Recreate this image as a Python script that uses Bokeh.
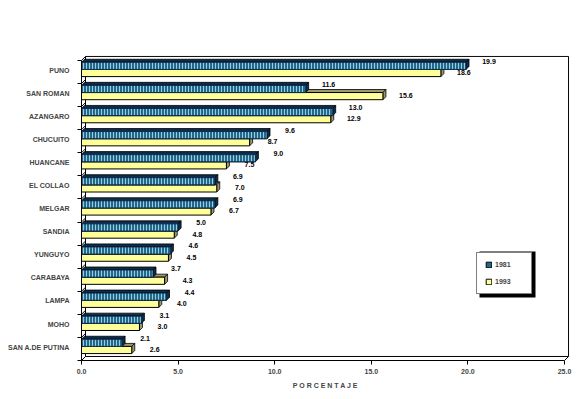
from bokeh.plotting import figure
from bokeh.models import (Range1d, FixedTicker, ColumnDataSource, Legend, LegendItem,
                          BoxAnnotation, NumeralTickFormatter)
from bokeh.core.properties import value
from bokeh.embed import file_html
from bokeh.resources import INLINE

# ---------------- data ----------------
provinces = ["PUNO", "SAN ROMAN", "AZANGARO", "CHUCUITO", "HUANCANE", "EL COLLAO",
             "MELGAR", "SANDIA", "YUNGUYO", "CARABAYA", "LAMPA", "MOHO", "SAN A.DE PUTINA"]
pct_1981 = [19.9, 11.6, 13.0, 9.6, 9.0, 6.9, 6.9, 5.0, 4.6, 3.7, 4.4, 3.1, 2.1]
pct_1993 = [18.6, 15.6, 12.9, 8.7, 7.5, 7.0, 6.7, 4.8, 4.5, 4.3, 4.0, 3.0, 2.6]
series_names = ["1981", "1993"]
x_ticks = [0, 5, 10, 15, 20, 25]
x_title = "P O R C E N T A J E"

# ---------------- style / layout constants ----------------
FONT = "Liberation Sans"
N = len(provinces)
X_MAX = x_ticks[-1]
PX_X = 19.32          # px per x unit
PX_Y = 22.92          # px per category
WALL_DX, WALL_DY = 4 / PX_X, 4 / PX_Y
BAR_DX, BAR_DY = 3 / PX_X, 3 / PX_Y
BAR_BASE, BAR_H = 0.30, 0.31

TEAL, TEAL_STRIPE, TEAL_SIDE = "#1F6A8C", "#9CCBE0", "#0E2C4C"
YEL, YEL_SIDE = "#FFFF99", "#9A9A6E"

x_end = X_MAX + WALL_DX + 0.05
y_end = N + WALL_DY + 0.04

p = figure(width=576, height=392, output_backend="svg", toolbar_location=None,
           x_range=Range1d(0, x_end), y_range=Range1d(0, y_end),
           min_border_left=81, min_border_right=7, min_border_top=55, min_border_bottom=32)
p.outline_line_color = None
p.grid.visible = False
p.background_fill_color = "white"

# ---------------- 3D walls ----------------
wall = dict(line_color="black", line_width=1)
p.segment(x0=[WALL_DX, X_MAX + WALL_DX, WALL_DX, WALL_DX],
          y0=[N + WALL_DY, WALL_DY, WALL_DY, WALL_DY],
          x1=[X_MAX + WALL_DX, X_MAX + WALL_DX, X_MAX + WALL_DX, WALL_DX],
          y1=[N + WALL_DY, N + WALL_DY, WALL_DY, N + WALL_DY], **wall)
ks = list(range(N + 1))
p.segment(x0=[0] * len(ks), y0=ks, x1=[WALL_DX] * len(ks), y1=[k + WALL_DY for k in ks], **wall)
p.segment(x0=[X_MAX], y0=[0], x1=[X_MAX + WALL_DX], y1=[WALL_DY], **wall)

# ---------------- bars ----------------
def bar_geom(vals, lo):
    left, right, bot, top = [], [], [], []
    top_xs, top_ys, side_xs, side_ys = [], [], [], []
    for i, v in enumerate(vals):
        b = N - 1 - i
        y0 = b + lo
        y1 = y0 + BAR_H
        left.append(0); right.append(v); bot.append(y0); top.append(y1)
        top_xs.append([0, BAR_DX, v + BAR_DX, v])
        top_ys.append([y1, y1 + BAR_DY, y1 + BAR_DY, y1])
        side_xs.append([v, v + BAR_DX, v + BAR_DX, v])
        side_ys.append([y0, y0 + BAR_DY, y1 + BAR_DY, y1])
    return (dict(left=left, right=right, bottom=bot, top=top),
            dict(xs=top_xs, ys=top_ys), dict(xs=side_xs, ys=side_ys))

# 1993 (lower bar) first
f93, t93, s93 = bar_geom(pct_1993, BAR_BASE)
p.patches(xs="xs", ys="ys", source=ColumnDataSource(t93), fill_color=YEL_SIDE, line_color="black", line_width=0.8)
p.patches(xs="xs", ys="ys", source=ColumnDataSource(s93), fill_color=YEL_SIDE, line_color="black", line_width=0.8)
r93 = p.quad(source=ColumnDataSource(f93), left="left", right="right", bottom="bottom", top="top",
             fill_color=YEL, line_color="black", line_width=1)

f81, t81, s81 = bar_geom(pct_1981, BAR_BASE + BAR_H)
src81 = ColumnDataSource(f81)
p.patches(xs="xs", ys="ys", source=ColumnDataSource(t81), fill_color=TEAL_SIDE, line_color="black", line_width=0.8)
p.patches(xs="xs", ys="ys", source=ColumnDataSource(s81), fill_color=TEAL_SIDE, line_color="black", line_width=0.8)
r81 = p.quad(source=src81, left="left", right="right", bottom="bottom", top="top",
             fill_color=TEAL, line_color="black", line_width=1)
p.quad(source=src81, left="left", right="right", bottom="bottom", top="top",
       fill_color=TEAL, line_color=TEAL_SIDE, line_width=1,
       hatch_pattern="vertical_line", hatch_color=TEAL_STRIPE, hatch_scale=3, hatch_weight=1)

# ---------------- value labels ----------------
lab_src81 = ColumnDataSource(dict(x=pct_1981, y=[N - 1 - i + 0.965 for i in range(N)],
                                  t=[f"{v:.1f}" for v in pct_1981]))
lab_src93 = ColumnDataSource(dict(x=pct_1993, y=[N - 1 - i + 0.48 for i in range(N)],
                                  t=[f"{v:.1f}" for v in pct_1993]))
for src in (lab_src81, lab_src93):
    p.text(x="x", y="y", text="t", source=src, x_offset=23, text_align="center",
           text_baseline="middle", text_font=value(FONT), text_font_size="7px",
           text_font_style="bold", text_color="black")

# ---------------- axes ----------------
xa = p.xaxis[0]
xa.ticker = FixedTicker(ticks=x_ticks, minor_ticks=[])
xa.formatter = NumeralTickFormatter(format="0.0")
xa.bounds = (0, X_MAX)
xa.axis_line_color = "black"
xa.major_tick_out = 4
xa.major_tick_in = 0
xa.minor_tick_line_color = None
xa.major_label_standoff = 4
xa.major_label_text_font = FONT
xa.major_label_text_font_size = "7px"
xa.major_label_text_font_style = "bold"
xa.axis_label = x_title
xa.axis_label_text_font = FONT
xa.axis_label_text_font_size = "7px"
xa.axis_label_text_font_style = "bold"
xa.axis_label_standoff = 5

ya = p.yaxis[0]
centers = [N - 1 - i + 0.58 for i in range(N)]
ya.ticker = FixedTicker(ticks=centers, minor_ticks=list(range(N + 1)))
ya.major_label_overrides = {c: name for c, name in zip(centers, provinces)}
ya.bounds = (0, N)
ya.axis_line_color = "black"
ya.major_tick_line_color = None
ya.major_tick_out = 0
ya.major_tick_in = 0
ya.minor_tick_line_color = "black"
ya.minor_tick_out = 4
ya.minor_tick_in = 0
ya.major_label_standoff = 8
ya.major_label_text_font = FONT
ya.major_label_text_font_size = "7px"
ya.major_label_text_font_style = "bold"

# ---------------- legend ----------------
LEG_X, LEG_Y, LEG_W, LEG_H, SH = 395, 66, 56, 46, 3
shadow = BoxAnnotation(left=LEG_X + SH, right=LEG_X + LEG_W + SH, bottom=LEG_Y - SH, top=LEG_Y + LEG_H - SH,
                       left_units="screen", right_units="screen", top_units="screen", bottom_units="screen",
                       fill_color="black", fill_alpha=1, line_color=None, level="annotation")
p.add_layout(shadow)
legend = Legend(items=[LegendItem(label=series_names[0], renderers=[r81]),
                       LegendItem(label=series_names[1], renderers=[r93])],
                location=(LEG_X, LEG_Y), orientation="vertical",
                border_line_color="black", border_line_width=1, background_fill_color="white",
                background_fill_alpha=1, glyph_width=7, glyph_height=7, label_height=7,
                label_width=28, label_standoff=3, padding=8, spacing=10, margin=0,
                label_text_font=FONT, label_text_font_size="7px", label_text_font_style="bold")
p.add_layout(legend)

open("out.html", "w").write(file_html(p, INLINE))
